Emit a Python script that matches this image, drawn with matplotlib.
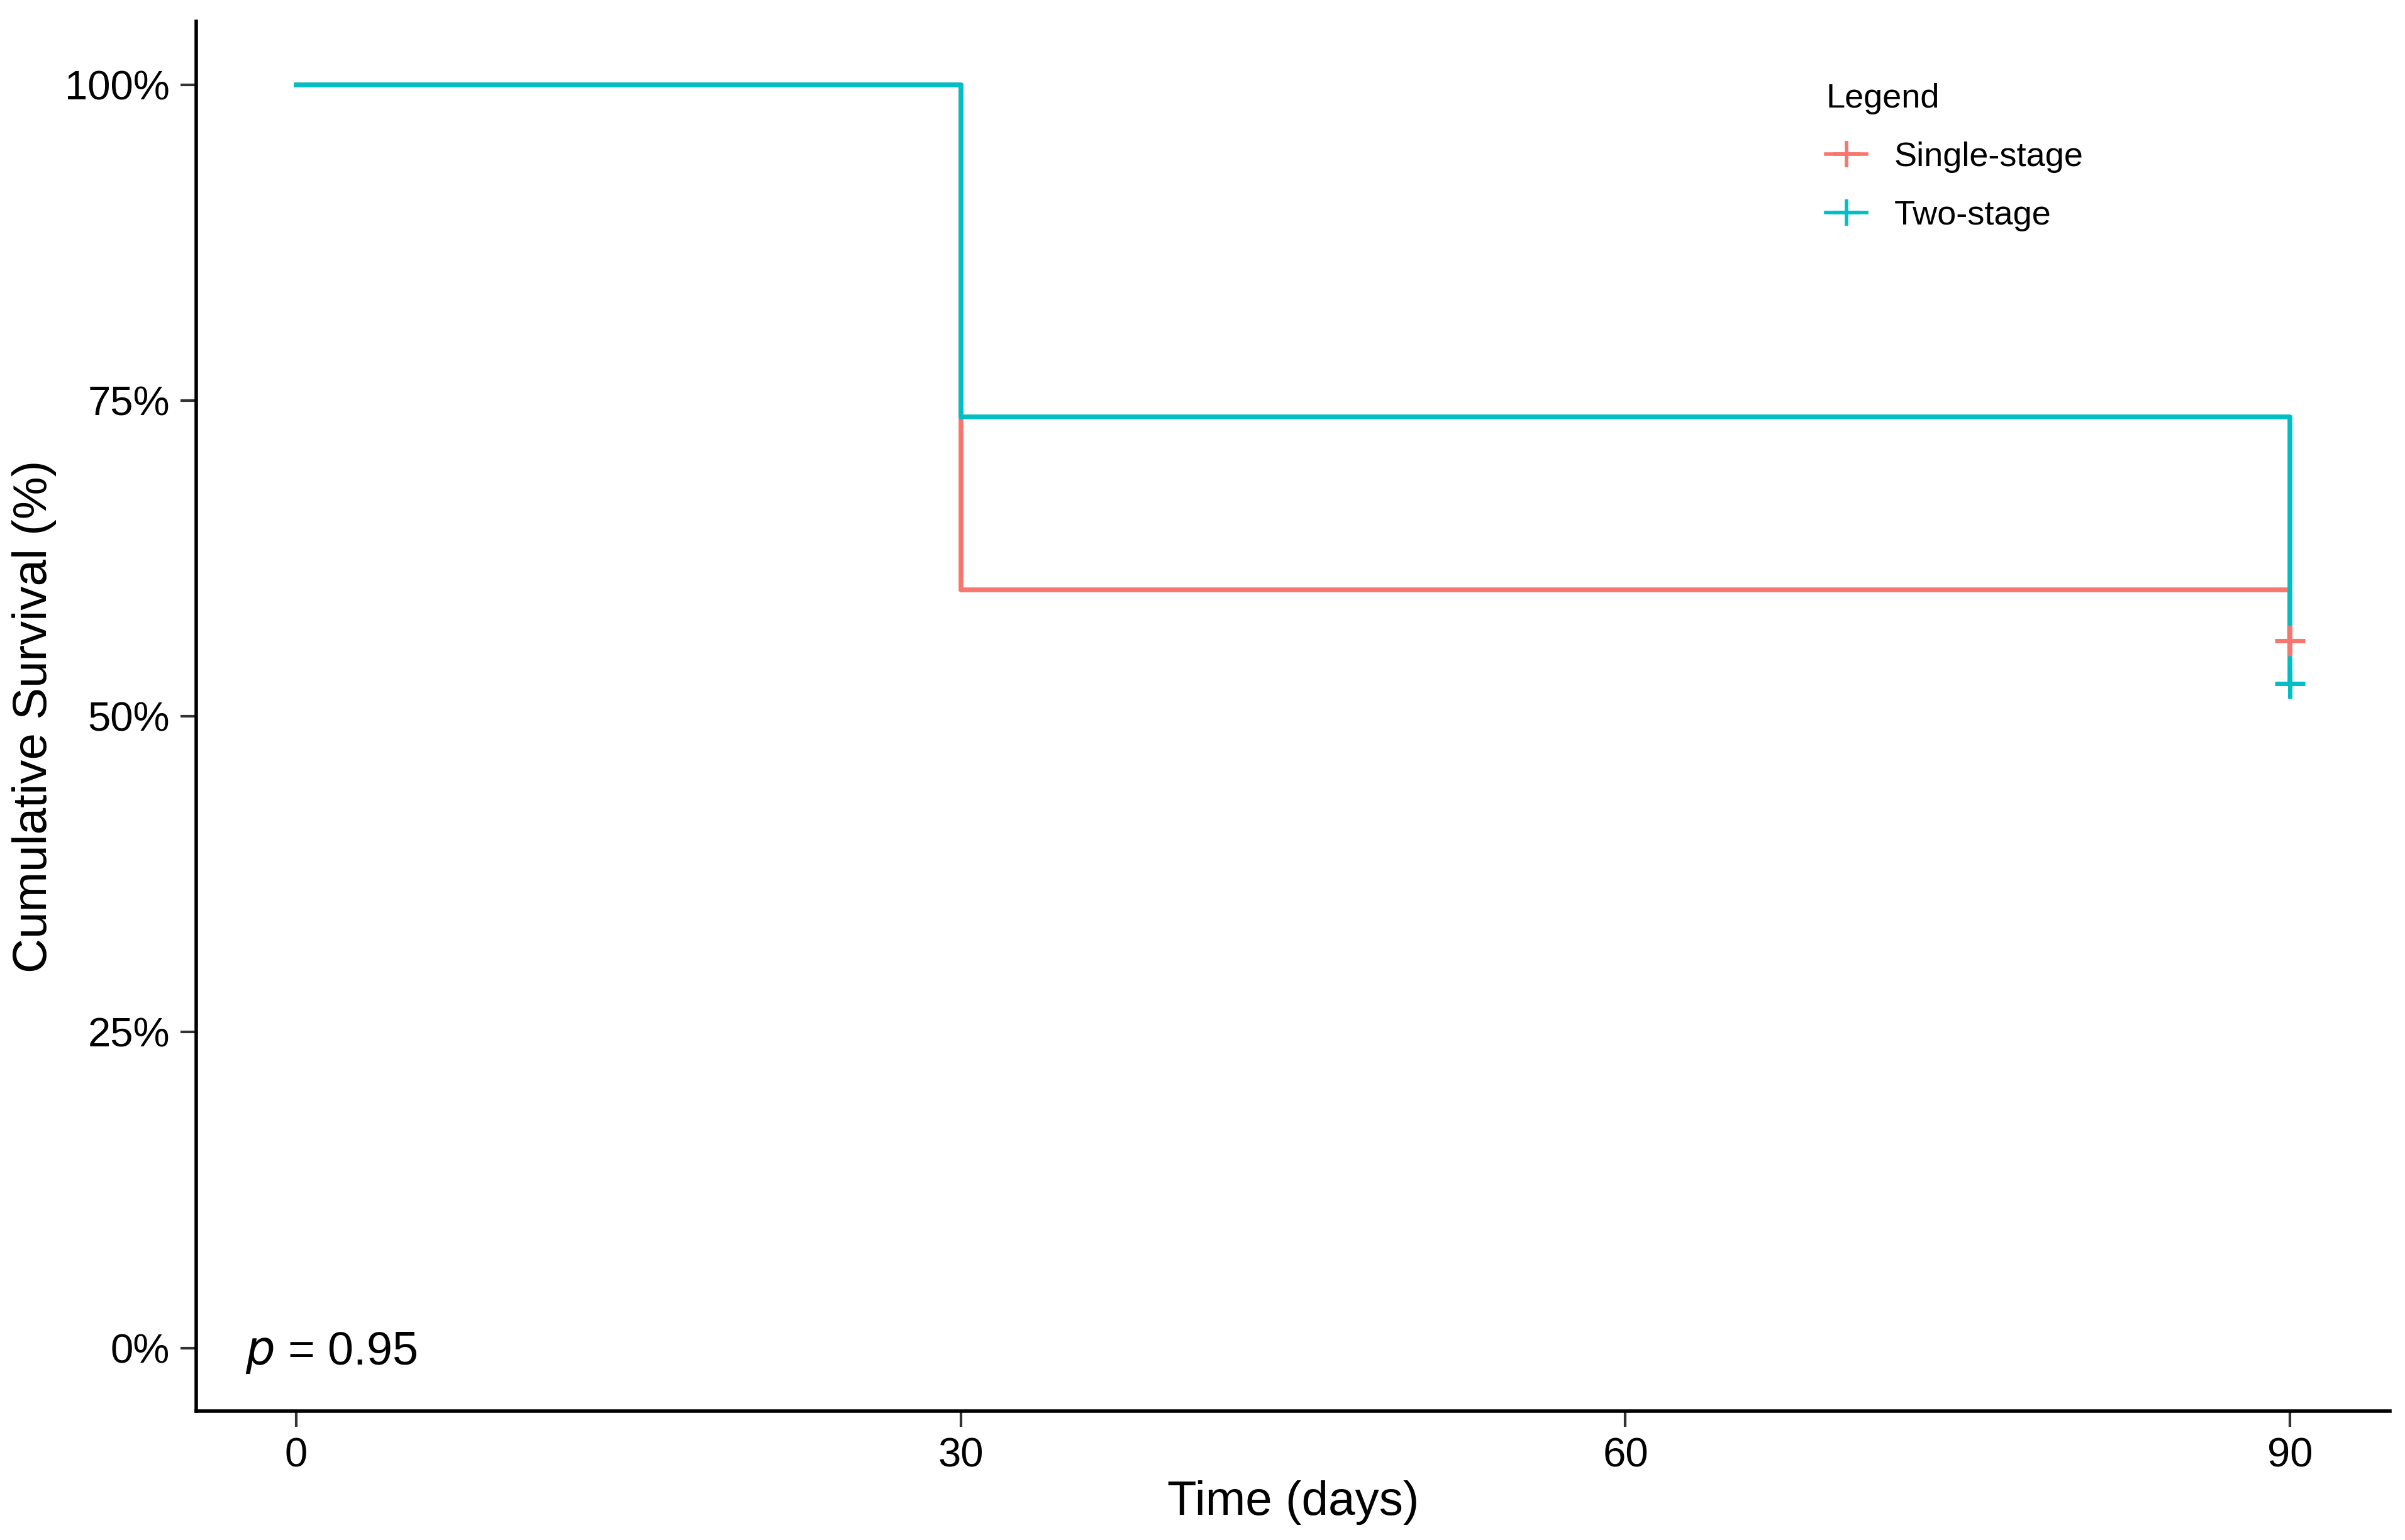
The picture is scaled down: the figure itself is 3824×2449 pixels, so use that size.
import numpy as np
import matplotlib
matplotlib.use("Agg")
import matplotlib.pyplot as plt
from matplotlib.lines import Line2D

plt.rcParams['font.family'] = ['Liberation Sans', 'DejaVu Sans']

# Kaplan-Meier step data
groups = ["Single-stage", "Two-stage"]
colors = ["#F8766D", "#00BFC4"]
times_single = [0, 30, 90]
surv_single = [1.0, 0.60, 0.56]
times_two = [0, 30, 90]
surv_two = [1.0, 0.737, 0.526]
censor_time = 90
yticks = [0, 0.25, 0.5, 0.75, 1.0]
ytick_labels = ["0%", "25%", "50%", "75%", "100%"]
xticks = [0, 30, 60, 90]
p_text = "0.95"

fig = plt.figure(figsize=(38.24, 24.49), dpi=100)
ax = fig.add_axes([0.0816, 0.0837, 0.9121, 0.9023])

lw = 5.5
for t, s, c in zip([times_single, times_two], [surv_single, surv_two], colors):
    ax.step(t, s, where='post', color=c, lw=lw, solid_joinstyle='round')

# censor marks
for s, c in zip([surv_single, surv_two], colors):
    ax.plot([censor_time], [s[-1]], marker='+', color=c, ms=34, mew=5, ls='none')

ax.set_xlim(-4.5, 94.5)
ax.set_ylim(-0.05, 1.05)
ax.set_xticks(xticks)
ax.set_yticks(yticks)
ax.set_yticklabels(ytick_labels)
ax.tick_params(labelsize=47, length=18, width=3, pad=12, colors='#333333', labelcolor='black')
for side in ['top', 'right']:
    ax.spines[side].set_visible(False)
for side in ['left', 'bottom']:
    ax.spines[side].set_linewidth(4)

ax.set_xlabel("Time (days)", fontsize=55, labelpad=6)
ax.set_ylabel("Cumulative Survival (%)", fontsize=55, labelpad=10)

ax.text(-2.3, -0.004, r"$\it{p}$ = " + p_text, fontsize=53, va='center', ha='left')

handles = [Line2D([], [], color=c, lw=4, marker='+', ms=30, mew=4) for c in colors]
leg = ax.legend(handles, groups, title="Legend", loc='upper left',
                bbox_to_anchor=(0.729, 0.978), frameon=False, fontsize=39,
                title_fontsize=39, alignment='left', handlelength=1.2,
                labelspacing=0.8, handletextpad=0.8)

fig.savefig("out.png", dpi=100, facecolor='white')
